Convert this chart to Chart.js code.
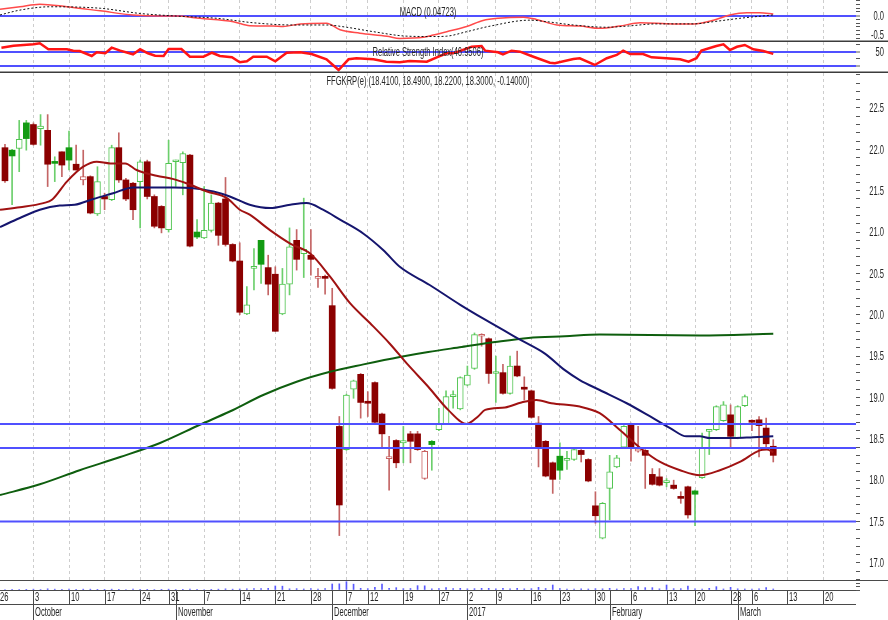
<!DOCTYPE html>
<html lang="en">
<head>
<meta charset="UTF-8">
<title>FFGKRP(e)</title>
<script src="https://cdn.jsdelivr.net/npm/chart.js@4.4.1/dist/chart.umd.min.js"></script>
<style>
  html, body { margin: 0; padding: 0; background: #fff; }
  .wrap { position: relative; width: 888px; height: 620px; overflow: hidden; }
  .wrap canvas { position: absolute; left: 0; }
</style>
</head>
<body>
<div class="wrap">
  <canvas id="macdChart" width="888" height="42" style="top:0"></canvas>
  <canvas id="rsiChart" width="888" height="31" style="top:42px"></canvas>
  <canvas id="priceChart" width="888" height="507" style="top:73px"></canvas>
  <canvas id="volumeChart" width="888" height="40" style="top:580px"></canvas>
</div>
<script>
// daily candles, Sep 27 2016 .. Mar 9 2017 (one entry per trading day)
const open = [22.02, 21.99, 22.01, 22.32, 22.30, 22.25, 22.23, 21.83, 21.97, 22.02,
  21.82, 21.63, 21.67, 21.22, 21.43, 21.39, 22.02, 21.63, 21.59, 21.61,
  21.85, 21.43, 21.31, 21.03, 21.85, 21.84, 21.93, 21.00, 20.93, 21.02,
  21.35, 21.40, 20.85, 20.65, 20.01, 20.56, 20.90, 20.57, 20.49, 20.01,
  20.37, 20.90, 20.74, 20.72, 20.44, 20.44, 20.11, 18.65, 18.37, 19.10,
  19.28, 18.94, 19.18, 18.80, 18.26, 18.48, 18.45, 18.56, 18.56, 18.02,
  18.47, 18.61, 18.68, 19.01, 18.86, 19.15, 19.35, 19.74, 19.71, 19.29,
  19.30, 19.05, 19.38, 19.11, 19.08, 18.69, 18.47, 18.21, 18.29, 18.24,
  18.25, 18.36, 18.25, 17.69, 17.30, 17.90, 18.16, 18.40, 18.68, 18.35,
  18.36, 18.07, 18.04, 17.97, 17.94, 17.78, 17.92, 17.87, 18.03, 18.59,
  18.61, 18.72, 18.79, 18.51, 18.90, 18.70, 18.73, 18.63, 18.41];
const high = [22.06, 22.00, 22.35, 22.35, 22.32, 22.42, 22.42, 21.91, 21.97, 22.22,
  22.05, 21.99, 21.68, 21.79, 21.47, 22.05, 22.20, 21.65, 21.60, 21.87,
  21.87, 21.45, 21.32, 22.11, 21.87, 21.97, 21.94, 21.15, 21.55, 21.45,
  21.36, 21.66, 20.86, 20.87, 20.34, 20.80, 20.90, 20.72, 20.58, 20.56,
  21.05, 21.03, 21.41, 21.03, 20.56, 20.48, 20.32, 18.77, 19.04, 19.21,
  19.29, 19.07, 19.19, 18.81, 18.53, 18.49, 18.65, 18.59, 18.59, 18.36,
  18.48, 18.87, 19.08, 19.08, 19.25, 19.38, 19.78, 19.77, 19.72, 19.50,
  19.40, 19.50, 19.56, 19.25, 19.09, 18.77, 18.48, 18.22, 18.45, 18.35,
  18.39, 18.37, 18.26, 17.86, 17.73, 18.30, 18.30, 18.66, 18.69, 18.65,
  18.37, 18.14, 18.14, 18.02, 18.00, 17.86, 17.93, 17.88, 18.57, 18.61,
  18.90, 18.95, 18.91, 18.90, 19.03, 18.73, 18.77, 18.75, 18.49];
const low = [21.60, 21.33, 21.73, 21.99, 22.05, 22.05, 21.55, 21.61, 21.67, 21.75,
  21.75, 21.57, 21.22, 21.20, 21.27, 21.38, 21.60, 21.38, 21.15, 21.05,
  21.40, 21.05, 20.99, 21.00, 21.55, 21.45, 20.82, 20.92, 20.92, 21.00,
  20.84, 20.83, 20.64, 20.00, 20.00, 20.30, 20.38, 20.24, 19.80, 20.00,
  20.24, 20.54, 20.45, 20.48, 20.33, 20.25, 19.10, 17.33, 18.36, 18.99,
  18.75, 18.77, 18.69, 18.40, 17.88, 18.15, 18.21, 18.21, 18.36, 18.01,
  18.12, 18.60, 18.67, 18.87, 18.85, 19.14, 19.34, 19.62, 19.17, 18.94,
  19.04, 19.04, 19.25, 18.97, 18.75, 18.16, 18.04, 17.84, 18.01, 18.13,
  18.24, 18.22, 17.98, 17.48, 17.29, 17.52, 18.15, 18.39, 18.23, 18.34,
  17.90, 17.94, 17.93, 17.92, 17.89, 17.72, 17.54, 17.45, 18.02, 18.31,
  18.60, 18.71, 18.40, 18.50, 18.89, 18.60, 18.28, 18.40, 18.22];
const close = [21.62, 21.92, 22.12, 22.13, 22.06, 22.28, 21.82, 21.83, 21.81, 21.87,
  21.75, 21.67, 21.23, 21.61, 21.40, 22.02, 21.63, 21.40, 21.27, 21.85,
  21.43, 21.07, 21.05, 21.83, 21.86, 21.95, 20.83, 20.94, 21.02, 21.35,
  20.96, 20.85, 20.65, 20.03, 20.12, 20.58, 20.61, 20.37, 19.80, 20.37,
  20.82, 20.67, 20.79, 20.67, 20.45, 20.44, 19.11, 17.70, 19.03, 19.20,
  18.94, 18.93, 18.70, 18.56, 18.27, 18.21, 18.48, 18.47, 18.37, 18.35,
  18.43, 18.68, 19.01, 19.02, 19.24, 19.27, 19.76, 19.75, 19.29, 19.30,
  19.05, 19.38, 19.26, 19.10, 18.76, 18.39, 18.05, 18.01, 18.12, 18.25,
  18.37, 18.31, 17.99, 17.57, 17.72, 18.10, 18.27, 18.65, 18.39, 18.38,
  18.30, 17.95, 17.94, 17.98, 17.90, 17.78, 17.58, 17.83, 18.39, 18.60,
  18.89, 18.91, 18.53, 18.89, 19.01, 18.70, 18.66, 18.44, 18.30];
const priorClose = 22.05;
const volume = [6, 8, 6, 8, 10, 6, 14, 10, 8, 12,
  8, 10, 10, 8, 8, 10, 8, 6, 10, 8,
  8, 6, 8, 10, 6, 8, 10, 8, 6, 8,
  10, 14, 10, 12, 14, 16, 16, 20, 48, 46,
  14, 16, 12, 16, 12, 18, 72, 74, 100, 70,
  20, 16, 32, 72, 20, 28, 16, 18, 52, 50,
  14, 18, 28, 16, 20, 14, 16, 20, 20, 14,
  20, 14, 20, 14, 16, 32, 18, 60, 18, 12,
  10, 14, 12, 16, 14, 20, 12, 16, 18, 40,
  28, 28, 14, 60, 16, 16, 48, 14, 12, 20,
  40, 12, 32, 14, 12, 12, 14, 28, 12];

// [candle position, value]
const maShort = [[-0.7,21.27],[2.1,21.30],[5.4,21.35],[6.6,21.39],[8.7,21.61],[11.0,21.79],[12.9,21.85],[14.8,21.83],
  [16.9,21.83],[18.5,21.75],[21.3,21.68],[23.7,21.64],[25.5,21.59],[28.4,21.49],[31.2,21.41],[33.0,21.27],[34.4,21.21],
  [37.3,21.02],[40.1,20.86],[42.9,20.74],[45.7,20.46],[48.5,20.14],[51.3,19.90],[54.1,19.65],[56.7,19.39],[59.5,19.13],
  [62.3,18.85],[64.9,18.68],[66.5,18.77],[67.5,18.85],[70.3,18.88],[72.6,18.94],[74.7,18.97],[76.8,18.93],[80.8,18.89],
  [83.6,18.81],[86.4,18.61],[89.3,18.39],[92.1,18.22],[94.9,18.12],[97.7,18.06],[100.5,18.12],[103.3,18.22],
  [106.1,18.36],[107.1,18.37],[108,18.34]];
const maMid = [[-0.7,21.06],[2.1,21.17],[4.9,21.27],[7.7,21.32],[9.8,21.33],[12.4,21.40],[15.2,21.47],[18.0,21.54],
  [20.8,21.54],[23.7,21.54],[26.5,21.53],[29.3,21.49],[31.6,21.43],[34.4,21.33],[37.3,21.29],[40.1,21.33],[42.4,21.35],
  [44.7,21.27],[47.1,21.15],[50.4,20.98],[53.2,20.78],[55.5,20.58],[59.7,20.36],[64.0,20.12],[67.5,19.94],[72.6,19.69],
  [75.9,19.53],[78.7,19.33],[80.8,19.21],[83.6,19.09],[87.4,18.93],[90.7,18.77],[93.5,18.63],[95.8,18.53],[97.7,18.53],
  [99.1,18.51],[102.4,18.51],[105.2,18.52],[108,18.53]];
const maLong = [[-0.7,17.82],[4.9,17.95],[10.5,18.12],[16.2,18.28],[21.8,18.45],[27.4,18.67],[31.6,18.83],[36.3,19.03],
  [41.0,19.19],[45.7,19.31],[50.4,19.40],[55.5,19.49],[59.5,19.55],[64.2,19.61],[68.9,19.67],[73.6,19.72],[78.7,19.74],
  [83.6,19.76],[97.7,19.75],[108,19.77]];
const levels = [18.68, 18.39, 17.50];

const macdLine = [[-0.7,0.17],[2.1,0.24],[4.9,0.31],[8.7,0.24],[13.4,0.13],[18.0,0.02],[21.8,-0.01],[24.1,-0.01],
  [27.4,-0.07],[32.1,-0.16],[34.4,-0.27],[37.7,-0.28],[39.1,-0.29],[41.5,-0.22],[45.2,-0.20],[47.1,-0.38],[49.9,-0.47],
  [53.7,-0.55],[55.5,-0.61],[58.8,-0.58],[60.2,-0.52],[62.1,-0.43],[64.9,-0.29],[67.2,-0.13],[69.3,-0.07],[72.9,-0.04],
  [74.7,-0.10],[77.6,-0.25],[80.8,-0.28],[83.6,-0.34],[86.4,-0.28],[89.3,-0.19],[94.0,-0.22],[96.8,-0.22],[99.6,-0.12],
  [101.9,0.02],[104.3,0.08],[106.1,0.08],[108,0.047]];
const macdSignal = [[-0.7,0.02],[2.1,0.15],[6.3,0.24],[13.4,0.20],[19.0,0.06],[24.1,-0.01],[29.8,-0.07],[34.9,-0.19],
  [40.5,-0.25],[45.2,-0.25],[48.0,-0.31],[51.8,-0.43],[56.5,-0.55],[60.2,-0.56],[62.1,-0.55],[64.9,-0.43],[68.2,-0.28],
  [73.8,-0.12],[76.1,-0.16],[79.9,-0.25],[84.6,-0.31],[87.4,-0.28],[91.6,-0.22],[96.8,-0.22],[99.6,-0.16],[103.3,-0.07],
  [108,0.02]];
const rsi = [[-0.5,55.5],[1.2,58.2],[4.0,60.1],[4.9,61.5],[6.1,53.3],[8.7,53.3],[9.6,51.4],[10.5,51.0],[12.2,44.1],
  [12.9,49.2],[14.1,47.8],[15.0,55.5],[16.2,51.4],[18.0,46.4],[19.0,53.3],[20.1,47.8],[21.1,44.5],[22.3,44.1],[23.0,53.7],
  [24.8,53.7],[26.0,43.2],[27.9,43.2],[29.1,48.6],[30.2,44.1],[31.9,42.3],[33.0,35.5],[34.0,36.8],[34.9,43.2],[36.8,43.2],
  [38.0,36.8],[39.6,48.6],[41.5,49.2],[43.1,46.8],[45.2,39.6],[46.1,31.8],[46.9,24.9],[48.3,39.6],[49.4,41.0],[51.8,39.6],
  [53.6,36.3],[55.5,35.5],[56.9,37.3],[59.3,36.3],[60.7,42.3],[62.1,47.8],[63.0,47.8],[65.6,56.8],[67.0,57.8],[67.5,51.4],
  [69.3,49.2],[70.0,46.4],[71.2,51.4],[72.4,50.0],[74.0,44.1],[76.6,34.9],[77.3,34.1],[79.9,40.0],[80.8,41.0],[82.9,31.8],
  [84.6,41.0],[86.0,45.5],[86.9,51.4],[87.9,46.8],[89.7,46.8],[90.9,42.3],[93.0,41.0],[94.9,39.6],[96.1,36.3],[97.2,41.0],
  [97.9,51.4],[100.0,57.8],[101.0,60.1],[101.9,52.3],[102.9,56.8],[104.0,59.2],[105.2,53.3],[106.6,51.0],[108,46.95]];

// axis labels
const weekTickIdx = [-1, 4, 9, 14, 19, 23, 28, 33, 38, 43, 48, 51, 56, 61, 65, 69, 74, 78, 83, 88, 93, 97, 102, 105, 110, 115];
const weekLabels = ['26','3','10','17','24','31','7','14','21','28','7','12','19','27','2','9','16','23','30','6','13','20','28','6','13','20'];
const monthIdx = [4, 24, 46, 65, 85, 103];
const monthLabels = ['October', 'November', 'December', '2017', 'February', 'March'];
const priceLabels = ['17.0','17.5','18.0','18.5','19.0','19.5','20.0','20.5','21.0','21.5','22.0','22.5'];
const macdLabels = ['0.0', '-0.5'];
const rsiLabels = ['50'];

const X_MIN = -0.7, X_MAX = 119.63;
const FONT = "12px 'Liberation Sans', Arial, sans-serif";
const SX = 0.63;              // the original uses a condensed face
const BLUE = '#5050ff';
const toXY = pts => pts.map(([x, y]) => ({ x, y }));
const steps = (a, b, s) => { const out = []; for (let v = a; v <= b + 1e-9; v += s) out.push(Math.round(v * 10) / 10); return out; };

function narrowText(ctx, text, x, y, align) {
  ctx.save();
  ctx.translate(x, y);
  ctx.scale(SX, 1);
  ctx.font = FONT;
  ctx.fillStyle = '#262626';
  ctx.textAlign = align;
  ctx.textBaseline = 'middle';
  ctx.fillText(text, 0, 0);
  ctx.restore();
}

// candle styling: green/red vs previous close, hollow when close > open
const bodyFill = [], bodyEdge = [], bodyLine = [], wickColor = [];
close.forEach((c, i) => {
  const prev = i === 0 ? priorClose : close[i - 1];
  const up = c >= prev, hollow = c > open[i];
  if (hollow) {
    bodyFill.push('#ffffff');
    bodyEdge.push(up ? '#4fc44f' : '#c96060');
    bodyLine.push(1);
  } else {
    bodyFill.push(up ? '#129b12' : '#8b0000');
    bodyEdge.push(up ? '#129b12' : '#8b0000');
    bodyLine.push(0);
  }
  wickColor.push(up ? '#6ccf6c' : '#c46565');
});

const panelDecor = {
  id: 'panelDecor',
  afterDatasetsDraw(chart, args, opts) {
    const { ctx, chartArea } = chart;
    if (opts.title) narrowText(ctx, opts.title, (chartArea.left + chartArea.right) / 2, opts.titleY, 'center');
    (opts.labels || []).forEach(t => {
      narrowText(ctx, t, chart.width - 4, chart.scales.y.getPixelForValue(Number(t)) + 1, 'right');
    });
    if (opts.bottomRule) {
      ctx.save();
      ctx.strokeStyle = '#3c3c3c';
      ctx.lineWidth = 1.5;
      ctx.beginPath();
      ctx.moveTo(0, chart.height - 0.75);
      ctx.lineTo(chart.width, chart.height - 0.75);
      ctx.stroke();
      ctx.restore();
    }
  }
};

const dateAxis = {
  id: 'dateAxis',
  afterDraw(chart) {
    const { ctx, chartArea } = chart;
    const x = chart.scales.x;
    const top = chartArea.bottom, mid = top + 14, bottom = chart.height;
    const px = v => Math.round(x.getPixelForValue(v)) + 0.5;
    ctx.save();
    ctx.strokeStyle = '#4a4a4a';
    ctx.lineWidth = 1;
    ctx.beginPath();
    ctx.moveTo(0, 0.5); ctx.lineTo(chart.width, 0.5);
    ctx.moveTo(0, top + 0.5); ctx.lineTo(chartArea.right, top + 0.5);
    ctx.moveTo(0, mid + 0.5); ctx.lineTo(chartArea.right, mid + 0.5);
    weekTickIdx.forEach(v => { ctx.moveTo(px(v), top); ctx.lineTo(px(v), mid); });
    monthIdx.forEach(v => { ctx.moveTo(px(v), top); ctx.lineTo(px(v), bottom); });
    ctx.stroke();
    ctx.restore();
    weekTickIdx.forEach((v, i) => narrowText(ctx, weekLabels[i], px(v) + 1.5, top + 8, 'left'));
    monthIdx.forEach((v, i) => narrowText(ctx, monthLabels[i], px(v) + 1.5, mid + 8.5, 'left'));
  }
};

function noPad(s) {
  s.paddingTop = 0; s.paddingBottom = 0; s.paddingLeft = 0; s.paddingRight = 0;
}

function xAxis(showGrid) {
  return {
    type: 'linear', min: X_MIN, max: X_MAX, offset: false, display: showGrid,
    afterBuildTicks: s => { s.ticks = weekTickIdx.filter(v => v >= X_MIN && v <= X_MAX).map(v => ({ value: v })); },
    afterFit: s => { s.height = 0; noPad(s); },
    ticks: { display: false },
    grid: { color: '#cdcdcd', drawTicks: false, offset: false },
    border: { display: false, dash: [3, 3] }
  };
}

function yAxis(min, max, tickVals, lineAt) {
  const hit = c => !!(lineAt && c.tick && lineAt.includes(c.tick.value));
  return {
    position: 'right', min, max,
    afterFit: s => { s.width = 32; noPad(s); },
    afterBuildTicks: s => { s.ticks = tickVals.map(v => ({ value: v })); },
    ticks: { display: false },
    grid: {
      drawOnChartArea: !!lineAt,
      color: c => hit(c) ? BLUE : 'rgba(0,0,0,0)',
      lineWidth: c => hit(c) ? 2 : 1,
      tickColor: '#555', tickWidth: 1, tickLength: 4
    },
    border: { display: false }
  };
}

function baseOptions(scales, decor, padding) {
  return {
    responsive: false, animation: false, devicePixelRatio: 1, events: [],
    layout: { padding: padding || 0 },
    plugins: { legend: { display: false }, tooltip: { enabled: false }, panelDecor: decor },
    scales
  };
}

function line(points, color, width, extra) {
  return Object.assign({ type: 'line', data: toXY(points), borderColor: color, borderWidth: width,
    pointRadius: 0, fill: false, tension: 0, order: 0 }, extra || {});
}

// MACD panel
new Chart(document.getElementById('macdChart'), {
  type: 'line',
  data: { datasets: [
    line(macdSignal, '#111111', 1, { borderDash: [2, 2], cubicInterpolationMode: 'monotone' }),
    line(macdLine, '#ff4a4a', 1.5, { cubicInterpolationMode: 'monotone' })
  ] },
  options: baseOptions({
    x: xAxis(true),
    y: yAxis(-0.707, 0.422, steps(-0.7, 0.4, 0.1), [0])
  }, { title: 'MACD (0.04723)', titleY: 12.5, labels: macdLabels, bottomRule: true }),
  plugins: [panelDecor]
});

// RSI panel
new Chart(document.getElementById('rsiChart'), {
  type: 'line',
  data: { datasets: [ line(rsi, '#ff1414', 2.5) ] },
  options: baseOptions({
    x: xAxis(true),
    y: yAxis(20.8, 63.3, [30, 40, 50, 60], [30, 50])
  }, { title: 'Relative Strength Index(46.9506)', titleY: 10.3, labels: rsiLabels, bottomRule: true }),
  plugins: [panelDecor]
});

// price panel
new Chart(document.getElementById('priceChart'), {
  type: 'bar',
  data: { datasets: [
    ...levels.map(v => line([[X_MIN, v], [X_MAX, v]], BLUE, 2, { order: -1 })),
    line(maShort, '#a01212', 2, { cubicInterpolationMode: 'monotone' }),
    line(maMid, '#15156e', 2, { cubicInterpolationMode: 'monotone' }),
    line(maLong, '#0e5e0e', 2, { cubicInterpolationMode: 'monotone' }),
    {
      type: 'bar', order: 1, grouped: false,
      data: open.map((o, i) => ({ x: i, y: [o, close[i]] })),
      backgroundColor: bodyFill, borderColor: bodyEdge, borderWidth: bodyLine,
      borderSkipped: false, barThickness: 6, maxBarThickness: 6, minBarLength: 2
    },
    {
      type: 'bar', order: 2, grouped: false,
      data: high.map((h, i) => ({ x: i, y: [low[i], h] })),
      backgroundColor: wickColor, borderWidth: 0,
      barThickness: 1, maxBarThickness: 1
    }
  ] },
  options: baseOptions({
    x: xAxis(true),
    y: yAxis(16.793, 22.923, steps(16.8, 22.9, 0.1), null)
  }, { title: 'FFGKRP(e) (18.4100, 18.4900, 18.2200, 18.3000, -0.14000)', titleY: 8.5, labels: priceLabels, bottomRule: false }),
  plugins: [panelDecor]
});

// volume strip + date axis
new Chart(document.getElementById('volumeChart'), {
  type: 'bar',
  data: { datasets: [{
    data: volume.map((v, i) => ({ x: i, y: v })),
    backgroundColor: '#5a5aff', grouped: false, barThickness: 1, maxBarThickness: 1
  }] },
  options: baseOptions({
    x: xAxis(false),
    y: yAxis(0, 120, [0, 40, 80], null)
  }, {}, { bottom: 30 }),
  plugins: [dateAxis]
});
</script>
</body>
</html>
